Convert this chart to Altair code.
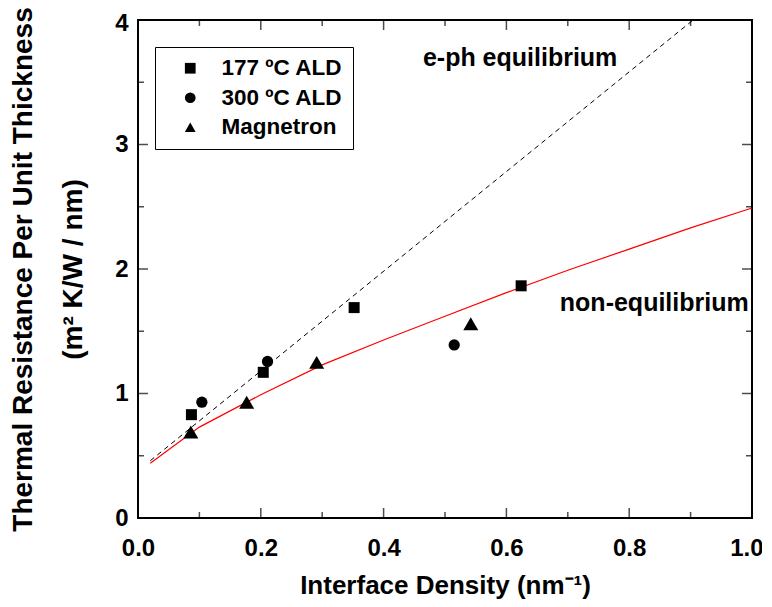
import altair as alt
import pandas as pd

# ---------------- data ----------------
series_names = ["177 ºC ALD", "300 ºC ALD", "Magnetron"]
series_shapes = ["square", "circle", "triangle-up"]

ald177_x = [0.087, 0.204, 0.352, 0.624]
ald177_y = [0.83, 1.17, 1.69, 1.865]

ald300_x = [0.104, 0.211, 0.515]
ald300_y = [0.93, 1.257, 1.39]

magnetron_x = [0.086, 0.177, 0.291, 0.542]
magnetron_y = [0.69, 0.93, 1.25, 1.56]

# e-ph equilibrium model (dashed straight line)
eq_x = [0.02, 0.904]
eq_y = [0.46, 4.0]

# non-equilibrium model (red curve)
neq_x = [0.02, 0.1, 0.2, 0.3, 0.4, 0.5, 0.6, 0.7, 0.8, 0.9, 1.0]
neq_y = [0.44, 0.73, 0.99, 1.23, 1.43, 1.62, 1.81, 1.99, 2.16, 2.33, 2.49]

ann_text = ["e-ph equilibrium", "non-equilibrium"]
ann_x = [0.464, 0.687]
ann_y = [3.695, 1.73]

x_major = [0.0, 0.2, 0.4, 0.6, 0.8, 1.0]
x_minor = [0.1, 0.3, 0.5, 0.7, 0.9]
y_major = [0, 1, 2, 3, 4]
y_minor = [0.5, 1.5, 2.5, 3.5]

# ---------------- tables ----------------
sq_df = pd.DataFrame({"x": ald177_x, "y": ald177_y, "series": series_names[0]})
ci_df = pd.DataFrame({"x": ald300_x, "y": ald300_y, "series": series_names[1]})
tr_df = pd.DataFrame({"x": magnetron_x, "y": magnetron_y, "series": series_names[2]})
eq_df = pd.DataFrame({"x": eq_x, "y": eq_y})
neq_df = pd.DataFrame({"x": neq_x, "y": neq_y})
ann_df = pd.DataFrame({"x": ann_x, "y": ann_y, "label": ann_text})

FONT = "Liberation Sans"
W, H = 614, 498
xs = alt.Scale(domain=[0, 1], nice=False, zero=False)
ys = alt.Scale(domain=[0, 4], nice=False, zero=False)

x_axis = alt.Axis(
    values=x_major, format=".1f", ticks=False, domain=False, grid=False,
    labelFont=FONT, labelFontSize=24, labelFontWeight="bold", labelColor="black",
    labelPadding=18, labelFlush=False,
    labelAlign={"condition": {"test": "datum.value >= 1", "value": "right"}, "value": "center"},
    labelOffset={"condition": {"test": "datum.value >= 1", "value": 11}, "value": 0},
    title="Interface Density (nm⁻¹)", titleFont=FONT, titleFontSize=26,
    titleFontWeight="bold", titleColor="black", titleY=67, titleBaseline="middle",
)
y_axis = alt.Axis(
    values=y_major, format="d", ticks=False, domain=False, grid=False,
    labelFont=FONT, labelFontSize=24, labelFontWeight="bold", labelColor="black",
    labelPadding=10, labelFlush=False,
    labelOffset={"condition": {"test": "datum.value >= 4", "value": 3}, "value": 0},
    title=["Thermal Resistance Per Unit Thickness", "(m² K/W / nm)"],
    titleFont=FONT, titleFontSize=28, titleFontWeight="bold", titleColor="black",
    titleX=-115, titleY=H / 2, titleAngle=-90, titleAlign="center",
    titleBaseline="middle", titleLineHeight=50,
)

shape_enc = alt.Shape(
    "series:N",
    scale=alt.Scale(domain=series_names, range=series_shapes),
    legend=alt.Legend(
        title=None, orient="none", legendX=17, legendY=27,
        strokeColor="black", fillColor="white", padding=10,
        symbolOffset=14, labelOffset=20, rowPadding=6.5,
        labelFont=FONT, labelFontSize=22.5, labelFontWeight="bold", labelColor="black",
        symbolSize=115, symbolFillColor="black", symbolStrokeColor="black",
    ),
)

red = alt.Chart(neq_df).mark_line(color="#ff0000", strokeWidth=1.2).encode(
    x=alt.X("x:Q", scale=xs, axis=x_axis),
    y=alt.Y("y:Q", scale=ys, axis=y_axis),
)
dashed = alt.Chart(eq_df).mark_line(color="black", strokeWidth=1, strokeDash=[5, 4]).encode(
    x=alt.X("x:Q", scale=xs, axis=x_axis),
    y=alt.Y("y:Q", scale=ys, axis=y_axis),
)


def point_layer(df, size):
    return alt.Chart(df).mark_point(filled=True, color="black", opacity=1, size=size).encode(
        x=alt.X("x:Q", scale=xs, axis=x_axis),
        y=alt.Y("y:Q", scale=ys, axis=y_axis),
        shape=shape_enc,
    )


sq_layer = point_layer(sq_df, 121)
ci_layer = point_layer(ci_df, 127)
tr_layer = point_layer(tr_df, 225)

labels = alt.Chart(ann_df).mark_text(
    align="left", baseline="middle", font=FONT, fontSize=25, fontWeight="bold", color="black"
).encode(
    x=alt.X("x:Q", scale=xs, axis=x_axis),
    y=alt.Y("y:Q", scale=ys, axis=y_axis),
    text="label:N",
)


def xticks(values, size, at, offset):
    return alt.Chart(pd.DataFrame({"x": values})).mark_tick(
        orient="vertical", size=size, thickness=1.5, color="black", yOffset=offset
    ).encode(x=alt.X("x:Q", scale=xs, axis=x_axis), y=alt.YDatum(at, scale=ys, axis=y_axis))


def yticks(values, size, at, offset):
    return alt.Chart(pd.DataFrame({"y": values})).mark_tick(
        orient="horizontal", size=size, thickness=1.5, color="black", xOffset=offset
    ).encode(y=alt.Y("y:Q", scale=ys, axis=y_axis), x=alt.XDatum(at, scale=xs, axis=x_axis))


tick_layers = [
    xticks(x_major, 10, 0, -5), xticks(x_minor, 6, 0, -3),
    xticks(x_major, 10, 4, 5), xticks(x_minor, 6, 4, 3),
    yticks(y_major, 10, 0, 5), yticks(y_minor, 6, 0, 3),
    yticks(y_major, 10, 1, -5), yticks(y_minor, 6, 1, -3),
]

chart = alt.layer(red, dashed, sq_layer, ci_layer, tr_layer, labels, *tick_layers).properties(
    width=W, height=H, autosize="none",
    padding={"left": 130, "top": 12, "right": 10, "bottom": 81},
).configure_view(stroke="black", strokeWidth=2)

chart.save("out.html", embed_options={"renderer": "svg", "actions": False})
